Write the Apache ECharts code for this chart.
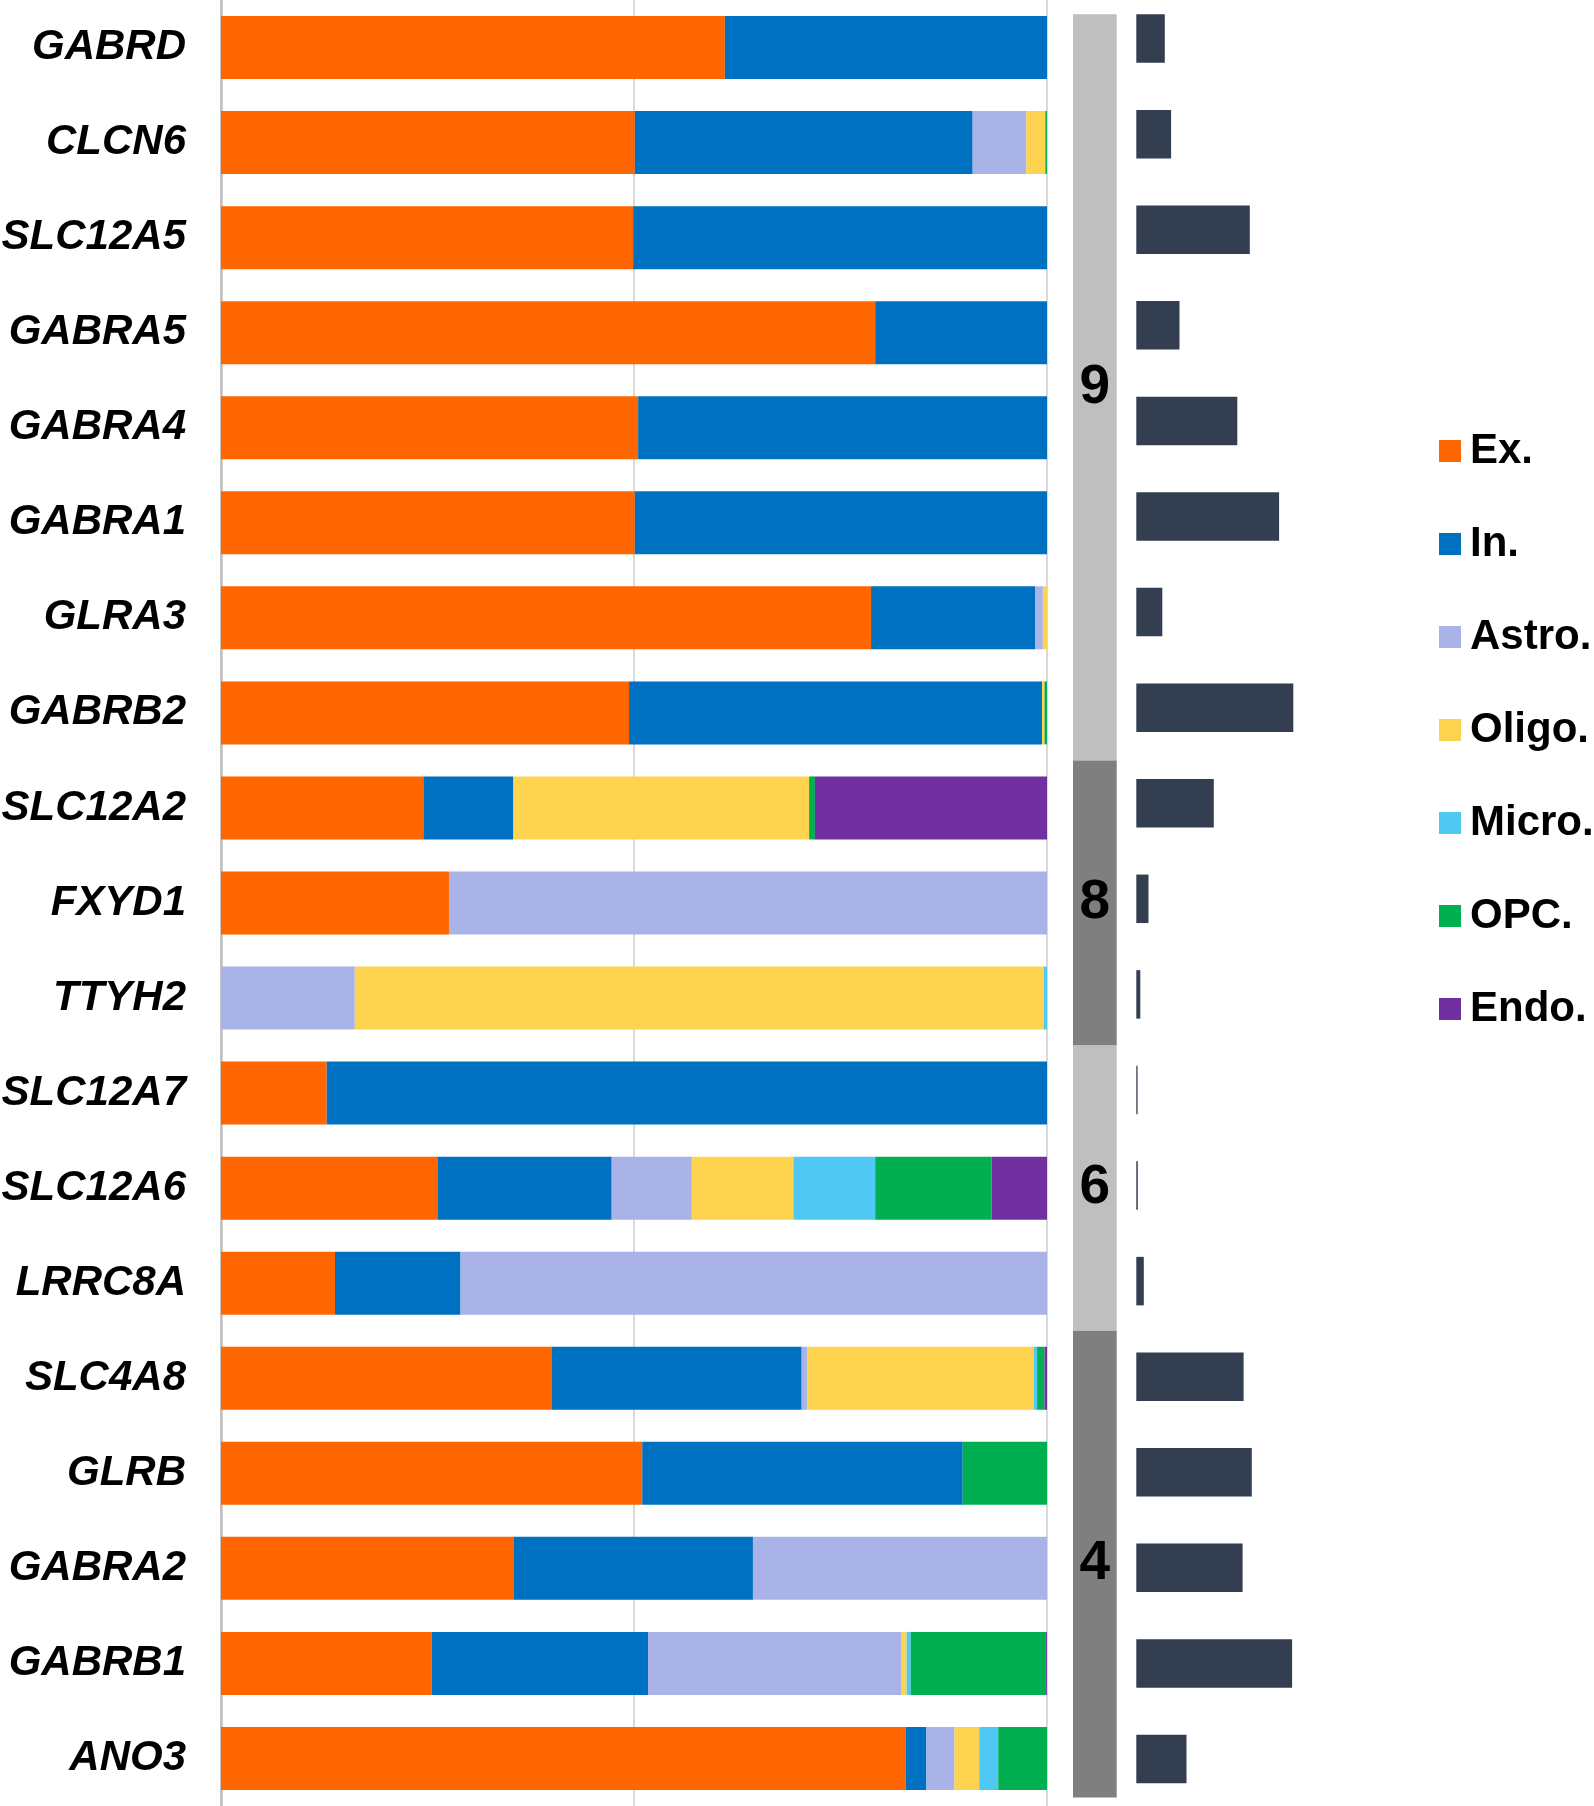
<!DOCTYPE html>
<html>
<head>
<meta charset="utf-8">
<script src="https://cdn.jsdelivr.net/npm/echarts@6/dist/echarts.min.js"></script>
<style>
  html, body { margin: 0; padding: 0; background: #fff; }
  #main { width: 1594px; height: 1806px; }
</style>
</head>
<body>
<div id="main"></div>
<script>
// genes, top to bottom
var genes = ['GABRD', 'CLCN6', 'SLC12A5', 'GABRA5', 'GABRA4', 'GABRA1', 'GLRA3', 'GABRB2', 'SLC12A2', 'FXYD1',
             'TTYH2', 'SLC12A7', 'SLC12A6', 'LRRC8A', 'SLC4A8', 'GLRB', 'GABRA2', 'GABRB1', 'ANO3'];

// share of each cell type (%)
var ex    = [61.0, 50.1, 49.9, 79.2, 50.5, 50.1, 78.7, 49.4, 24.5, 27.6, 0, 12.8, 26.2, 13.8, 40.0, 51.0, 35.4, 25.5, 82.9];
var inh   = [39.0, 40.9, 50.1, 20.8, 49.5, 49.9, 19.9, 50.0, 10.9, 0, 0, 87.2, 21.1, 15.2, 30.3, 38.8, 29.0, 26.2, 2.5];
var astro = [0, 6.5, 0, 0, 0, 0, 0.9, 0, 0, 72.4, 16.2, 0, 9.7, 71.0, 0.7, 0, 35.6, 30.7, 3.4];
var oligo = [0, 2.3, 0, 0, 0, 0, 0.5, 0.3, 35.8, 0, 83.4, 0, 12.3, 0, 27.4, 0, 0, 0.6, 3.0];
var micro = [0, 0, 0, 0, 0, 0, 0, 0, 0, 0, 0.4, 0, 9.9, 0, 0.4, 0, 0, 0.5, 2.3];
var opc   = [0, 0.2, 0, 0, 0, 0, 0, 0.3, 0.7, 0, 0, 0, 14.1, 0, 0.9, 10.2, 0, 16.4, 5.9];
var endo  = [0, 0, 0, 0, 0, 0, 0, 0, 28.1, 0, 0, 0, 6.7, 0, 0.3, 0, 0, 0.1, 0];

// overall expression (dark bars, arbitrary units)
var expr = [28.5, 34.8, 113.5, 43.2, 101, 142.8, 26, 157, 77.5, 12.2, 4, 1.3, 1.5, 7.5, 107.3, 115.5, 106.3, 155.8, 50.2];

// groups in the grey column
var groupLabels = ['9', '8', '6', '4'];
var groupStart  = [0, 8, 11, 14];
var groupEnd    = [7, 10, 13, 18];

var cellNames  = ['Ex.', 'In.', 'Astro.', 'Oligo.', 'Micro.', 'OPC.', 'Endo.'];
var cellColors = ['#ff6600', '#0070c0', '#a9b3e8', '#fed34f', '#4fc8f4', '#00b050', '#7030a0'];
var cellData   = [ex, inh, astro, oligo, micro, opc, endo];

var chartDom = document.getElementById('main');
var myChart = echarts.init(chartDom);

var series = [];
for (var i = 0; i < cellNames.length; i++) {
    series.push({
        name: cellNames[i],
        type: 'bar',
        stack: 'total',
        xAxisIndex: 0,
        yAxisIndex: 0,
        barWidth: 63,
        itemStyle: { color: cellColors[i] },
        emphasis: { disabled: true },
        data: cellData[i]
    });
}

// grey group column
var groupData = [];
for (var g = 0; g < groupLabels.length; g++) {
    groupData.push([0, groupStart[g], groupEnd[g]]);
}
series.push({
    type: 'custom',
    xAxisIndex: 1,
    yAxisIndex: 1,
    silent: true,
    data: groupData,
    encode: { x: 0, y: 1 },
    renderItem: function (params, api) {
        var idx = params.dataIndex;
        var h = api.size([0, 1])[1];
        var p0 = api.coord([0, groupStart[idx]]);
        var p1 = api.coord([1, groupEnd[idx]]);
        var y0 = p0[1] - h / 2;
        var y1 = p1[1] + h / 2;
        if (idx === 0) y0 = p0[1] - h * 0.35;
        if (idx === groupLabels.length - 1) y1 = p1[1] + h * 0.41;
        return {
            type: 'group',
            children: [{
                type: 'rect',
                shape: { x: p0[0], y: y0, width: p1[0] - p0[0], height: y1 - y0 },
                style: { fill: idx % 2 === 0 ? '#bfbfbf' : '#7f7f7f' }
            }, {
                type: 'text',
                style: {
                    text: groupLabels[idx],
                    x: (p0[0] + p1[0]) / 2,
                    y: (y0 + y1) / 2,
                    align: 'center',
                    verticalAlign: 'middle',
                    fill: '#000',
                    font: 'bold 55px "Liberation Sans", Arial, sans-serif'
                }
            }]
        };
    }
});

// dark bars
series.push({
    type: 'bar',
    xAxisIndex: 2,
    yAxisIndex: 2,
    barWidth: 48.5,
    itemStyle: { color: '#333f50' },
    emphasis: { disabled: true },
    data: expr
});

var option = {
    animation: false,
    backgroundColor: '#fff',
    grid: [
        { left: 221, top: 0, width: 826, height: 1806, outerBoundsMode: 'none' },
        { left: 1073, top: 0, width: 43.7, height: 1806, outerBoundsMode: 'none' },
        { left: 1136.3, top: -9.2, width: 200, height: 1816, outerBoundsMode: 'none' }
    ],
    legend: {
        orient: 'vertical',
        left: 1439,
        top: 429,
        padding: 0,
        icon: 'rect',
        itemWidth: 22,
        itemHeight: 22,
        itemGap: 49,
        selectedMode: false,
        data: cellNames,
        textStyle: {
            color: '#000',
            fontSize: 42,
            lineHeight: 44,
            fontWeight: 'bold',
            fontFamily: '"Liberation Sans", Arial, sans-serif',
            padding: [0, 0, 0, 4]
        }
    },
    xAxis: [
        {
            gridIndex: 0, type: 'value', min: 0, max: 100, interval: 50,
            axisLine: { show: false }, axisTick: { show: false }, axisLabel: { show: false },
            splitLine: { show: true, lineStyle: { color: '#d9d9d9', width: 2 } }
        },
        { gridIndex: 1, type: 'value', min: 0, max: 1, show: false },
        { gridIndex: 2, type: 'value', min: 0, max: 200, show: false }
    ],
    yAxis: [
        {
            gridIndex: 0, type: 'category', data: genes, inverse: true,
            axisLine: { show: true, lineStyle: { color: '#bfbfbf', width: 2.5 } },
            axisTick: { show: false },
            axisLabel: {
                margin: 35,
                color: '#000',
                fontSize: 42,
                fontWeight: 'bold',
                fontStyle: 'italic',
                fontFamily: '"Liberation Sans", Arial, sans-serif',
                padding: [5, 0, 0, 0]
            }
        },
        { gridIndex: 1, type: 'category', data: genes, inverse: true, show: false },
        { gridIndex: 2, type: 'category', data: genes, inverse: true, show: false }
    ],
    series: series
};

option && myChart.setOption(option);
</script>
</body>
</html>
